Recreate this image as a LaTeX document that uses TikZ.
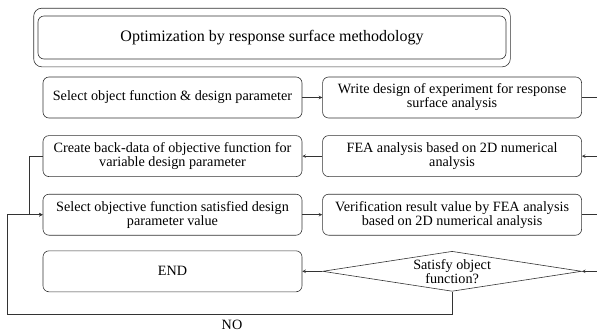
\documentclass[tikz,border=0pt]{standalone}
\usepackage{fontspec}
\setmainfont{Liberation Serif}
\usetikzlibrary{shapes.geometric, arrows, positioning, calc, fit}

\begin{document}
\begin{tikzpicture}[
    x=1pt, y=-1pt,
    node distance=17pt and 20pt,
    >=stealth,
    heading/.style={rectangle, draw=black!80, line width=0.6pt, minimum width=468pt, minimum height=43pt, rounded corners=6pt, font=\fontsize{16}{18}\selectfont},
    outerbox/.style={rectangle, draw=black!80, line width=0.6pt, rounded corners=8pt, inner xsep=4pt, inner ysep=7.5pt},
    stepbox/.style={rectangle, draw=black!80, line width=0.6pt, minimum width=259pt, minimum height=41pt, rounded corners=6pt, align=center, font=\fontsize{14.2}{14}\selectfont},
    decision/.style={diamond, draw=black!80, line width=0.6pt, minimum width=259pt, minimum height=40pt, inner sep=0pt},
    flow/.style={->, draw=black!80, line width=0.6pt},
]
\useasboundingbox (0,0) rectangle (597,333);
\clip (0,0) rectangle (597,333);

% Title
\node[heading] (title) at (272,37.5) {Optimization by response surface methodology};
\node[outerbox, fit=(title)] (titleframe) {};

% Steps
\node[stepbox] (objsel) at (172.5,97.5) {Select object function \& design parameter};
\node[stepbox, right=of objsel] (doe) {Write design of experiment for response\\surface analysis};
\node[stepbox, below=of objsel] (backdata) {Create back-data of objective function for\\variable design parameter};
\node[stepbox, below=of doe] (fea) {FEA analysis based on 2D numerical\\analysis};
\node[stepbox, below=of backdata] (optsel) {Select objective function satisfied design\\parameter value};
\node[stepbox, below=of fea] (verify) {Verification result value by FEA analysis\\based on 2D numerical analysis};
\node[stepbox, below=15pt of optsel] (finish) {END};

% Decision
\node[decision, right=of finish] (chk) {};
\node[align=center, font=\fontsize{14.2}{14}\selectfont] (chktext) at (chk) {Satisfy object\\function?};

% Connectors
\draw[flow] (objsel) -- (doe);
\draw[flow] (doe.east) -- ++(30,0) |- (fea.east);
\draw[flow] (fea) -- (backdata);
\draw[flow] (backdata.west) -- ++(-13,0) |- (optsel.west);
\draw[flow] (optsel) -- (verify);
\draw[flow] (verify.east) -- ++(30,0) |- (chk.east);
\draw[flow] (chk) -- (finish);
\coordinate (nocorner) at (7,314);
\draw[flow] (chk.south) |- (nocorner) |- (optsel.west);
\node[font=\fontsize{14.2}{14}\selectfont] (nolabel) at (232,325) {NO};

\end{tikzpicture}
\end{document}
